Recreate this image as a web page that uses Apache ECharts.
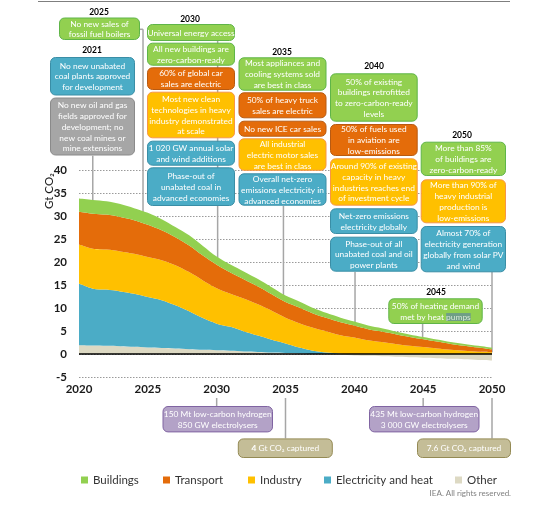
<!DOCTYPE html>
<html><head><meta charset="utf-8">
<script src="https://cdn.jsdelivr.net/npm/echarts@6/dist/echarts.min.js"></script>
<style>html,body{margin:0;padding:0;background:#fff}#c{width:553px;height:508px}</style>
</head><body><div id="c"></div><script>
// ---- data (Gt CO2) ----
const years = [2020,2021,2022,2023,2024,2025,2026,2027,2028,2029,2030,2031,2032,2033,2034,2035,2036,2037,2038,2039,2040,2041,2042,2043,2044,2045,2046,2047,2048,2049,2050];
const other = [1.9,1.85,1.8,1.7,1.55,1.4,1.3,1.2,1.05,0.9,0.8,0.7,0.55,0.45,0.3,0.2,0.1,0,-0.1,-0.2,-0.3,-0.4,-0.5,-0.6,-0.7,-0.8,-0.9,-1.05,-1.15,-1.3,-1.4];
const electricity = [13.4,12.35,12.2,11.9,11.55,11.0,10.4,9.4,8.25,6.9,5.8,5.2,4.35,3.55,2.8,2.1,1.3,0.7,0.3,0.07,0,0,0,0,0,0,0,0,0,0,0];
const industry = [8.5,8.7,8.7,8.7,8.7,8.7,8.7,8.7,8.5,8.2,7.7,7.2,7.1,6.8,6.3,5.6,5.3,5.0,4.6,4.03,3.6,3.0,2.6,2.2,1.8,1.5,1.2,0.9,0.7,0.5,0.4];
const transport = [7.1,7.6,7.6,7.5,7.3,7.0,6.5,6.1,5.8,5.4,5.1,4.6,4.2,3.9,3.6,3.4,3.4,3.1,2.9,2.8,2.6,2.4,2.3,2.1,1.9,1.7,1.5,1.3,1.1,0.9,0.6];
const buildings = [2.9,3.0,2.9,2.8,2.6,2.6,2.4,2.2,2.2,2.1,1.8,1.75,1.7,1.6,1.5,1.4,1.3,1.2,1.1,1.0,0.85,0.8,0.7,0.6,0.55,0.5,0.45,0.42,0.4,0.38,0.37];
const seriesNames = ['Other','Electricity and heat','Industry','Transport','Buildings'];
const xTickStep = 5;
const yTicks = [-5,0,5,10,15,20,25,30,35,40];

const COL = {green:'#92D050', orange:'#E46C0A', yellow:'#FFC000', blue:'#4BACC6', other:'#DDD9C3'};
const FONT = 'Lato, "Open Sans", sans-serif';

const chart = echarts.init(document.getElementById('c'), null, {renderer:'canvas'});
const seriesData = [other, electricity, industry, transport, buildings];
const seriesColors = [COL.other, COL.blue, COL.yellow, COL.orange, COL.green];

const series = seriesNames.map((n, i) => ({
  name: n, type: 'line', stack: 'total', smooth: 0.3, showSymbol: false, symbol: 'none',
  lineStyle: {width: 0}, areaStyle: {color: seriesColors[i], opacity: 1},
  itemStyle: {color: seriesColors[i]},
  data: seriesData[i].slice(),
  z: 2
}));
series[4].markLine = {
  silent: true, symbol: 'none', label: {show: false},
  lineStyle: {color: '#000', width: 1.6, type: 'solid'},
  data: [{yAxis: 0}], z: 5
};

const legendLeft = [76, 158, 243, 319, 450];
const legendOrder = ['Buildings','Transport','Industry','Electricity and heat','Other'];
const legends = legendOrder.map((n, i) => ({
  data: [n], left: legendLeft[i], top: 469, itemWidth: 7, itemHeight: 7, icon: 'rect',
  selectedMode: false, textStyle: {fontSize: 11.5, color: '#333', fontFamily: FONT}
}));

chart.setOption({
  animation: false,
  backgroundColor: '#fff',
  grid: {left: 79, right: 61, top: 170, bottom: 131, containLabel: false},
  xAxis: {
    type: 'category', data: years.map(String), boundaryGap: false,
    axisLine: {show: false, onZero: false}, axisTick: {show: false}, splitLine: {show: false},
    axisLabel: {interval: xTickStep - 1, fontSize: 11.5, fontWeight: 'bold', color: '#1a1a1a', fontFamily: FONT, margin: 6}
  },
  yAxis: {
    type: 'value', min: yTicks[0], max: yTicks[yTicks.length-1], interval: yTicks[1]-yTicks[0],
    axisLine: {show: false}, axisTick: {show: false},
    splitLine: {show: true, lineStyle: {color: '#9a9a9a', type: [1.5, 1.5], width: 1}},
    axisLabel: {fontSize: 11.5, fontWeight: 'bold', color: '#1a1a1a', fontFamily: FONT, margin: 12}
  },
  legend: legends,
  series: series
});

// ---- annotations ----
const STY = {
  green: ['#92D050', '#5fb548'],
  blue: ['#4BACC6', '#3a8ea6'],
  orange: ['#E46C0A', '#b85a12'],
  yellow: ['#FFC000', '#F79646'],
  gray: ['#A6A6A6', '#8a8a8a'],
  purple: ['#B3A2C7', '#8064A2'],
  tan: ['#C4BD97', '#948A54']
};
const boxes = [
  [59, 17.5, 81, 22.5, 'green', 'No new sales of\nfossil fuel boilers'],
  [50, 57, 85, 38.5, 'blue', 'No new unabated\ncoal plants approved\nfor development'],
  [50, 97.5, 85, 58, 'gray', 'No new oil and gas\nfields approved for\ndevelopment; no\nnew coal mines or\nmine extensions'],
  [147, 24, 88, 17, 'green', 'Universal energy access'],
  [147, 42.7, 88, 23, 'green', 'All new buildings are\nzero-carbon-ready'],
  [147, 67.3, 88, 22.7, 'orange', '60% of global car\nsales are electric'],
  [147, 91.7, 88, 46.6, 'yellow', 'Most new clean\ntechnologies in heavy\nindustry demonstrated\nat scale'],
  [147, 140.7, 88, 25, 'blue', '1 020 GW annual solar\nand wind additions'],
  [147, 167.3, 88, 38.7, 'blue', 'Phase-out of\nunabated coal in\nadvanced economies'],
  [238.5, 57.3, 88, 33.4, 'green', 'Most appliances and\ncooling systems sold\nare best in class'],
  [238.5, 92.3, 88, 26, 'orange', '50% of heavy truck\nsales are electric'],
  [238.5, 120.7, 88, 16, 'orange', 'No new ICE car sales'],
  [238.5, 138.3, 88, 32.5, 'yellow', 'All industrial\nelectric motor sales\nare best in class'],
  [238.5, 173.3, 88, 32.4, 'blue', 'Overall net-zero\nemissions electricity in\nadvanced economies'],
  [330, 73.3, 87.7, 48.4, 'green', '50% of existing\nbuildings retrofitted\nto zero-carbon-ready\nlevels'],
  [330, 124, 87.7, 32, 'orange', '50% of fuels used\nin aviation are\nlow-emissions'],
  [330, 158.3, 87.7, 47.4, 'yellow', 'Around 90% of existing\ncapacity in heavy\nindustries reaches end\nof investment cycle'],
  [330, 208.3, 87.7, 25.7, 'blue', 'Net-zero emissions\nelectricity globally'],
  [330, 236.7, 87.7, 35, 'blue', 'Phase-out of all\nunabated coal and oil\npower plants'],
  [420.7, 141.7, 85.3, 34.3, 'green', 'More than 85%\nof buildings are\nzero-carbon-ready'],
  [420.7, 179.3, 85.3, 44, 'yellow', 'More than 90% of\nheavy industrial\nproduction is\nlow-emissions'],
  [420.7, 226, 85.3, 46.3, 'blue', 'Almost 70% of\nelectricity generation\nglobally from solar PV\nand wind'],
  [388.3, 298.3, 94.4, 25.7, 'green', '50% of heating demand\nmet by heat {hl|pumps}'],
  [162.5, 406, 110.5, 26.4, 'purple', '150 Mt low-carbon hydrogen\n850 GW electrolysers'],
  [237.8, 438.4, 95, 19.6, 'tan', '{b|4} Gt CO₂ captured'],
  [369, 406, 110.5, 26.4, 'purple', '435 Mt low-carbon hydrogen\n3 000 GW electrolysers'],
  [417, 438.4, 94, 19.6, 'tan', '7.6 Gt CO₂ captured']
];
const yearLabels = [['2025', 99, 12], ['2021', 92, 50], ['2030', 190, 19], ['2035', 282, 52], ['2040', 374, 66], ['2050', 462, 135], ['2045', 436, 292]];

function total(year) {
  const k = years.indexOf(year);
  let s = 0;
  seriesData.forEach(a => { if (a[k] > 0) s += a[k]; });
  return s;
}
// pixel position of a (possibly fractional) year through the category scale
function px(year, val) {
  const i0 = Math.max(0, Math.min(years.length - 2, Math.floor(year - years[0])));
  const f = (year - years[0]) - i0;
  const p0 = chart.convertToPixel({gridIndex: 0}, [i0, val]);
  const p1 = chart.convertToPixel({gridIndex: 0}, [i0 + 1, val]);
  return [p0[0] + f * (p1[0] - p0[0]), p0[1]];
}
// connectors: [x year, curve year, top pixel y]
const connectors = [
  [2021, 2021, 155.7],
  [2024.65, 2025, 29.3],
  [2030.07, 2030, 41],
  [2034.85, 2035, 206],
  [2040.05, 2040, 272],
  [2044.96, 2045, 324],
  [2050, 2050, 272]
];
const g = [];
g.push({type: 'line', z: 1, shape: {x1: 38, y1: 1.5, x2: 510, y2: 1.5}, style: {stroke: '#7f7f7f', lineWidth: 1}});
connectors.forEach(c => {
  const p = px(c[0], total(c[1]) - 1);
  g.push({type: 'line', z: 1, shape: {x1: p[0], y1: c[2], x2: p[0], y2: p[1]}, style: {stroke: '#a6a6a6', lineWidth: 1.5}});
});
const p25 = px(2024.65, 0);
g.push({type: 'line', z: 1, shape: {x1: 140, y1: 29.3, x2: p25[0], y2: 29.3}, style: {stroke: '#a6a6a6', lineWidth: 1.5}});
[[2030, 406], [2035, 438.4], [2045, 406], [2050, 438.4]].forEach(c => {
  const p = px(c[0], 0);
  g.push({type: 'line', z: 1, shape: {x1: p[0], y1: 398, x2: p[0], y2: c[1]}, style: {stroke: '#a6a6a6', lineWidth: 1.5}});
});
boxes.forEach(b => {
  const [x, y, w, h, st, txt] = b;
  g.push({type: 'group', x: x, y: y, z: 3, children: [
    {type: 'rect', shape: {x: 0.5, y: 0.5, width: w - 1, height: h - 1, r: 5}, style: {fill: STY[st][0], stroke: STY[st][1], lineWidth: 1}, z: 3},
    {type: 'text', x: w / 2, y: h / 2 + 0.5, z: 4, style: {
      text: txt, fill: '#fff', fontSize: 8.4, fontFamily: FONT, align: 'center', verticalAlign: 'middle', lineHeight: 10.8,
      rich: {hl: {backgroundColor: '#6f9e86', fill: '#d8e8d8', fontSize: 8.4, fontFamily: FONT}, b: {fontWeight: 'bold', fill: '#fff', fontSize: 8.4, fontFamily: FONT}}
    }}
  ]});
});
yearLabels.forEach(l => {
  g.push({type: 'text', x: l[1], y: l[2], z: 4, style: {text: l[0], fill: '#000', fontSize: 8.5, fontWeight: 'bold', fontFamily: FONT, align: 'center', verticalAlign: 'middle'}});
});
g.push({type: 'text', x: 49, y: 191, rotation: Math.PI / 2, z: 4, style: {text: 'Gt CO₂', fill: '#1a1a1a', fontSize: 11.5, fontFamily: FONT, align: 'center', verticalAlign: 'middle'}});
g.push({type: 'text', x: 511, y: 493, z: 4, style: {text: 'IEA. All rights reserved.', fill: '#808080', fontSize: 8, fontFamily: FONT, align: 'right', verticalAlign: 'middle'}});
chart.setOption({graphic: g});
</script></body></html>
